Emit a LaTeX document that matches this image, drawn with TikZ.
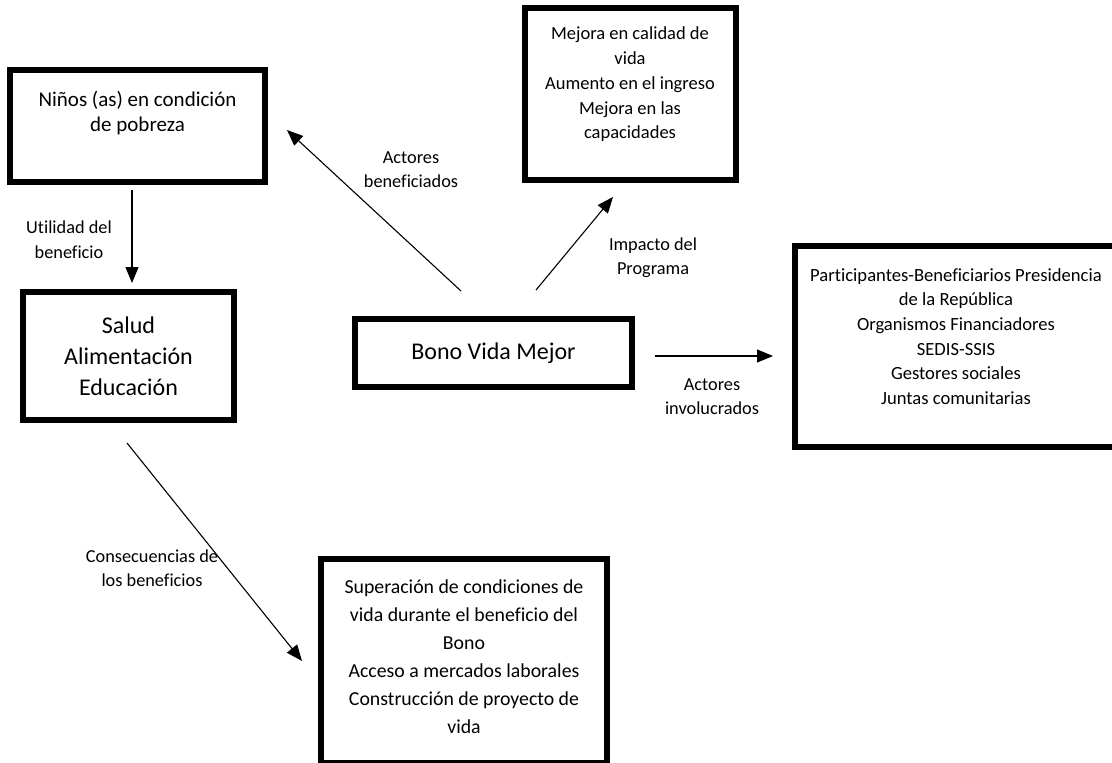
\documentclass[tikz,border=0pt]{standalone}
\usepackage{fontspec}
\setmainfont{Carlito}[Ligatures=NoCommon]
\usetikzlibrary{arrows.meta,positioning}

\begin{document}
\begin{tikzpicture}[x=1pt,y=-1pt,
    frame/.style={draw,line width=6pt,inner sep=0pt,align=center},
    txt/.style={inner sep=0pt,align=center},
    lbl/.style={inner sep=0pt,align=center,font=\fontsize{18.3}{24.5}\selectfont},
    arr/.style={-{Triangle[length=16pt,width=13pt]},line width=1.1pt}]
        \useasboundingbox (0,0) rectangle (1112,763);

        % cajas
        \node[frame,minimum width=255pt,minimum height=112pt] (ninos) at (137.5,126) {};
        \node[txt,font=\fontsize{21}{25}\selectfont] (ninosTxt) at (137.5,113.5)
          {Niños (as) en condición\\de pobreza};
        \node[frame,minimum width=211pt,minimum height=128pt,
          font=\fontsize{24}{31}\selectfont] (salud) at (128.5,356)
          {Salud\\Alimentación\\Educación};
        \node[frame,minimum width=277pt,minimum height=68pt,
          font=\fontsize{24}{29}\selectfont] (bono) at (493.5,353)
          {Bono Vida Mejor};
        \node[frame,minimum width=211pt,minimum height=172pt] (mejora) at (630.5,94) {};
        \node[txt,font=\fontsize{18.5}{24.75}\selectfont] (mejoraTxt) at (630,84.5)
          {Mejora en calidad de\\vida\\Aumento en el ingreso\\Mejora en las\\capacidades};
        % caja cortada por el borde derecho
        \node[frame,minimum width=340pt,minimum height=201pt] (actores) at (965,346.5) {};
        \node[txt,font=\fontsize{18.6}{24.6}\selectfont] (actoresTxt) at (956,336.5)
          {Participantes-Beneficiarios Presidencia\\de la República\\Organismos Financiadores\\SEDIS-SSIS\\Gestores sociales\\Juntas comunitarias};
        \node[frame,minimum width=286pt,minimum height=204pt] (superacion) at (464,661) {};
        \node[txt,font=\fontsize{19.8}{28}\selectfont] (superacionTxt) at (464,657)
          {Superación de condiciones de\\vida durante el beneficio del\\Bono\\Acceso a mercados laborales\\Construcción de proyecto de\\vida};

        % etiquetas
        \node[lbl] (utilLbl) at (69,239.5) {Utilidad del\\beneficio};
        \node[lbl] (benefLbl) at (411,169.5) {Actores\\beneficiados};
        \node[lbl] (impLbl) at (653,257.5) {Impacto del\\Programa};
        \node[lbl] (involLbl) at (712,396.5) {Actores\\involucrados};
        \node[lbl] (consLbl) at (152,568) {Consecuencias de\\los beneficios};

        % flechas
        \coordinate (utilA) at (132,190);   \coordinate (utilB) at (132,283);
        \coordinate (benefA) at (461,291);  \coordinate (benefB) at (287,130);
        \coordinate (impA) at (536,290);    \coordinate (impB) at (613,197);
        \coordinate (involA) at (655,356);  \coordinate (involB) at (773,356);
        \coordinate (consA) at (127,443);   \coordinate (consB) at (302,661);
        \foreach \a/\b in {utilA/utilB,benefA/benefB,impA/impB,involA/involB,consA/consB}
          \draw[arr] (\a) -- (\b);
      \end{tikzpicture}
\end{document}
